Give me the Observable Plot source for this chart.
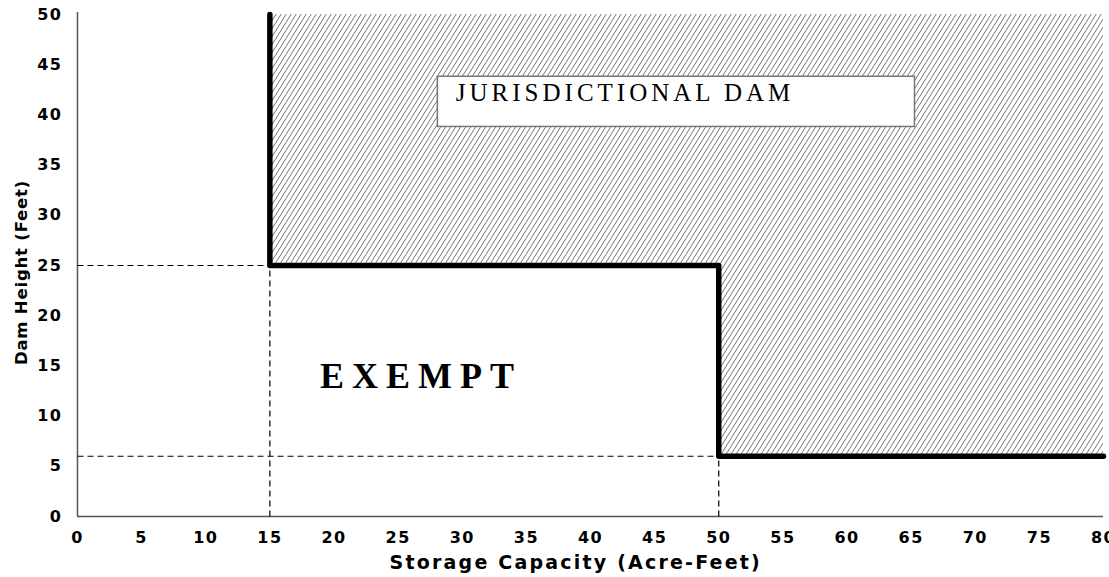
<!DOCTYPE html>
<html>
<head>
<meta charset="utf-8">
<script src="https://cdn.jsdelivr.net/npm/d3@7"></script>
<script src="https://cdn.jsdelivr.net/npm/@observablehq/plot@0.6"></script>
<style>
  html, body { margin: 0; padding: 0; background: #fff; }
  #chart svg { display: block; }
</style>
</head>
<body>
<div id="chart"></div>
<script>
// ---- data ----
const xTicks = [0, 5, 10, 15, 20, 25, 30, 35, 40, 45, 50, 55, 60, 65, 70, 75, 80];
const yTicks = [0, 5, 10, 15, 20, 25, 30, 35, 40, 45, 50];

// boundary between exempt and jurisdictional
const boundaryX = [15, 15, 50, 50, 80];
const boundaryY = [50, 25, 25, 6, 6];

// hatched (jurisdictional) regions
const hatchX1 = [15, 50];
const hatchX2 = [80, 80];
const hatchY1 = [25, 6];
const hatchY2 = [50, 25];

// dashed guide lines
const dashX1 = [0, 0, 15, 50];
const dashX2 = [15, 50, 15, 50];
const dashY1 = [25, 6, 0, 0];
const dashY2 = [25, 6, 25, 6];

// annotations
const labelBox = {x1: 28.1, x2: 65.3, y1: 38.8, y2: 43.8};
const jurisLabel = {text: "JURISDICTIONAL DAM", x: 29.5, y: 42.2};
const exemptLabel = {text: "EXEMPT", x: 18.9, y: 13.9};
const xTitle = "Storage Capacity (Acre-Feet)";
const yTitle = "Dam Height (Feet)";

// ---- build tables ----
const hatchRects = hatchX1.map((d, i) => ({x1: d, x2: hatchX2[i], y1: hatchY1[i], y2: hatchY2[i]}));
const boundary = boundaryX.map((d, i) => ({x: d, y: boundaryY[i]}));
const dashes = dashX1.map((d, i) => ({x1: d, x2: dashX2[i], y1: dashY1[i], y2: dashY2[i]}));

const sansBold = "'DejaVu Sans', 'Liberation Sans', Arial, sans-serif";
const serif = "'Liberation Serif', 'Times New Roman', serif";

const plot = Plot.plot({
  width: 1109,
  height: 577,
  marginLeft: 77,
  marginRight: 6,
  marginTop: 14,
  marginBottom: 61,
  style: {background: "#fff", color: "#000"},
  x: {domain: [0, 80]},
  y: {domain: [0, 50]},
  marks: [
    Plot.rect(hatchRects, {x1: "x1", x2: "x2", y1: "y1", y2: "y2", fill: "url(#hatch)"}),
    Plot.ruleX([0], {y1: 0, y2: 50.2, stroke: "#555", strokeWidth: 1.5}),
    Plot.ruleY([0], {x1: 0, x2: 80, stroke: "#555", strokeWidth: 1.5}),
    Plot.link(dashes, {x1: "x1", x2: "x2", y1: "y1", y2: "y2", stroke: "#000", strokeWidth: 1.2, strokeDasharray: "6,4"}),
    Plot.line(boundary, {x: "x", y: "y", stroke: "#000", strokeWidth: 5.5, strokeLinejoin: "round", strokeLinecap: "round"}),
    Plot.rect([labelBox], {x1: "x1", x2: "x2", y1: "y1", y2: "y2", fill: "#fff", stroke: "#777", strokeWidth: 1.5}),
    Plot.text([jurisLabel], {x: "x", y: "y", text: "text", textAnchor: "start", fontFamily: serif, fontSize: 25, fill: "#000"}),
    Plot.text([exemptLabel], {x: "x", y: "y", text: "text", textAnchor: "start", fontFamily: serif, fontWeight: "bold", fontSize: 36, fill: "#000"}),
    Plot.axisX(xTicks, {tickSize: 0, tickPadding: 15, fontSize: 16, fontWeight: "bold", fontFamily: sansBold, label: null}),
    Plot.axisY(yTicks, {tickSize: 0, tickPadding: 15, fontSize: 16, fontWeight: "bold", fontFamily: sansBold, label: null}),
    Plot.text([xTitle], {x: 38.85, y: 0, text: d => d, dy: 46, fontSize: 19, fontWeight: "bold", fontFamily: sansBold, fill: "#000"}),
    Plot.text([yTitle], {x: 0, y: 24.3, text: d => d, rotate: -90, dx: -56, fontSize: 16.5, fontWeight: "bold", fontFamily: sansBold, fill: "#000"})
  ]
});

// hatch pattern definition
const svg = d3.select(plot);
const defs = svg.insert("defs", ":first-child");
const pat = defs.append("pattern")
  .attr("id", "hatch")
  .attr("patternUnits", "userSpaceOnUse")
  .attr("width", 5)
  .attr("height", 8);
pat.append("path")
  .attr("d", "M0,8 L5,0 M-5,8 L0,0 M5,8 L10,0 M0,16 L5,8 M0,0 L5,-8")
  .attr("stroke", "#666")
  .attr("stroke-width", 0.9)
  .attr("fill", "none");

// letter spacing for texts
svg.selectAll("g[aria-label='x-axis tick label'] text, g[aria-label='y-axis tick label'] text").style("letter-spacing", "1.5px");
svg.selectAll("g[aria-label='text'] text").each(function() {
  const t = d3.select(this).text();
  const s = d3.select(this);
  if (t === exemptLabel.text) s.style("letter-spacing", "8px");
  if (t === jurisLabel.text) s.style("letter-spacing", "4px");
  if (t === xTitle) s.style("letter-spacing", "2.2px");
  if (t === yTitle) s.style("letter-spacing", "0.8px");
});

document.getElementById("chart").appendChild(plot);
</script>
</body>
</html>
